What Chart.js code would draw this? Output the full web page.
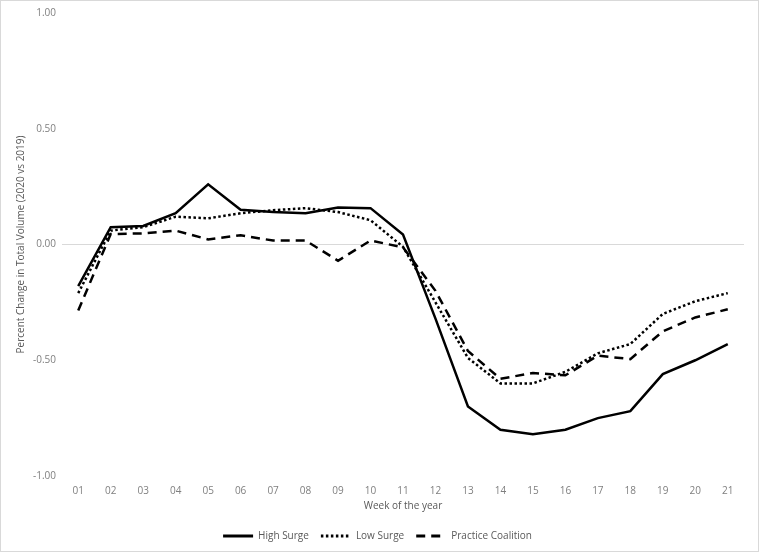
<!DOCTYPE html>
<html>
<head>
<meta charset="utf-8">
<script src="https://cdn.jsdelivr.net/npm/chart.js@4/dist/chart.umd.min.js"></script>
<style>
  html, body { margin: 0; padding: 0; background: #fff; }
  #wrap { width: 759px; height: 552px; box-sizing: border-box; border: 1px solid #d9d9d9; }
</style>
</head>
<body>
<div id="wrap"><canvas id="chart" width="757" height="550"></canvas></div>
<script>
const weeks = ["01","02","03","04","05","06","07","08","09","10","11","12","13","14","15","16","17","18","19","20","21"];
const highSurge = [-0.18, 0.075, 0.08, 0.135, 0.26, 0.15, 0.14, 0.135, 0.16, 0.157, 0.043, -0.32, -0.70, -0.80, -0.82, -0.80, -0.75, -0.72, -0.56, -0.50, -0.43];
const lowSurge = [-0.21, 0.06, 0.075, 0.12, 0.113, 0.135, 0.148, 0.157, 0.14, 0.105, -0.01, -0.25, -0.49, -0.60, -0.60, -0.55, -0.47, -0.43, -0.30, -0.245, -0.21];
const practiceCoalition = [-0.285, 0.045, 0.048, 0.06, 0.022, 0.04, 0.017, 0.017, -0.07, 0.017, -0.012, -0.20, -0.46, -0.58, -0.555, -0.565, -0.48, -0.495, -0.375, -0.315, -0.28];

const font = { family: "'Open Sans', 'Liberation Sans', sans-serif", size: 10 };
const grey = "#7f7f7f";

new Chart(document.getElementById("chart"), {
  type: "line",
  data: {
    labels: weeks,
    datasets: [
      { label: "High Surge", data: highSurge, borderColor: "#000", backgroundColor: "#000", borderWidth: 2.5, pointRadius: 0, tension: 0 },
      { label: "Low Surge", data: lowSurge, borderColor: "#000", backgroundColor: "#000", borderWidth: 2.5, borderDash: [2.5, 2.5], pointRadius: 0, tension: 0 },
      { label: "Practice Coalition", data: practiceCoalition, borderColor: "#000", backgroundColor: "#000", borderWidth: 2.5, borderDash: [9, 6], pointRadius: 0, tension: 0 }
    ]
  },
  options: {
    responsive: false,
    animation: false,
    layout: { padding: { top: 10, right: 14, left: 10, bottom: 0 } },
    plugins: {
      legend: {
        position: "bottom",
        labels: {
          usePointStyle: true,
          pointStyle: "line",
          pointStyleWidth: 30,
          color: "#595959",
          font: font,
          padding: 12,
          generateLabels: chart => Chart.defaults.plugins.legend.labels.generateLabels(chart).map(item => {
            const ds = chart.data.datasets[item.datasetIndex];
            item.lineDash = ds.borderDash || [];
            item.lineWidth = 3;
            item.pointStyle = "line";
            return item;
          })
        }
      },
      tooltip: { enabled: false }
    },
    scales: {
      x: {
        offset: true,
        grid: { display: false },
        border: { display: false },
        ticks: { color: grey, font: font, padding: 1 },
        title: { display: true, text: "Week of the year", color: "#595959", font: font, padding: { top: 2, bottom: 7 } }
      },
      y: {
        min: -1,
        max: 1,
        grid: {
          drawTicks: false,
          color: ctx => ctx.tick && ctx.tick.value === 0 ? "#d9d9d9" : "rgba(0,0,0,0)"
        },
        border: { display: false },
        ticks: {
          stepSize: 0.5,
          color: grey,
          font: font,
          padding: 6,
          callback: v => Number(v).toFixed(2)
        },
        title: { display: true, text: "Percent Change in Total Volume (2020 vs 2019)", color: "#595959", font: font, padding: { top: 4, bottom: 0 } }
      }
    }
  }
});
</script>
</body>
</html>
